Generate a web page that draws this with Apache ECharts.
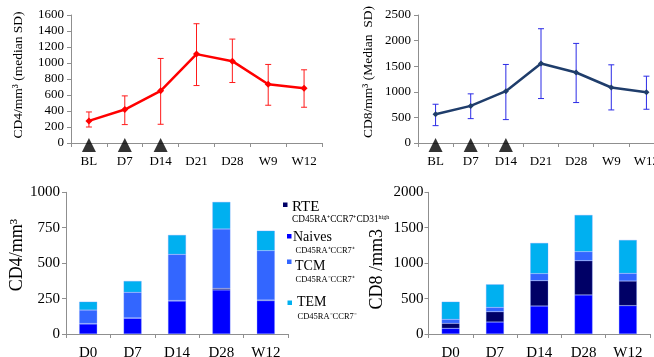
<!DOCTYPE html>
<html>
<head>
<meta charset="utf-8">
<script src="https://cdn.jsdelivr.net/npm/echarts@6/dist/echarts.min.js"></script>
<style>
html,body{margin:0;padding:0;background:#fff;}
#chart{width:654px;height:357px;}
</style>
</head>
<body>
<div id="chart"></div>
<script>
// ---------- data ----------
const catsTop = ['BL', 'D7', 'D14', 'D21', 'D28', 'W9', 'W12'];
const treatmentDays = ['BL', 'D7', 'D14'];

const cd4Median = [276, 418, 652, 1111, 1023, 735, 685];
const cd4Low    = [200, 230, 234, 718, 756, 472, 447];
const cd4High   = [388, 589, 1057, 1491, 1299, 982, 915];

const cd8Median = [561, 725, 1012, 1553, 1377, 1084, 992];
const cd8Low    = [339, 476, 457, 868, 790, 646, 659];
const cd8High   = [757, 960, 1534, 2232, 1945, 1527, 1305];

const catsBottom = ['D0', 'D7', 'D14', 'D28', 'W12'];
const cd4Naive = [71, 111, 233, 311, 235];
const cd4RTE   = [3, 3, 4, 11, 5];
const cd4TCM   = [95, 180, 325, 419, 348];
const cd4TEM   = [59, 80, 137, 191, 141];

const cd8Naive = [80, 169, 395, 551, 400];
const cd8RTE   = [71, 146, 358, 484, 348];
const cd8TCM   = [56, 61, 99, 127, 108];
const cd8TEM   = [249, 325, 433, 518, 471];

const legendNames = ['RTE', 'Naives', 'TCM', 'TEM'];
const legendSubs = ['CD45RA⁺CCR7⁺CD31', 'CD45RA⁺CCR7⁺', 'CD45RA⁻CCR7⁺', 'CD45RA⁻CCR7⁻'];

// ---------- styles ----------
const SERIF = '"Liberation Serif", "Times New Roman", serif';
const AX = '#8f8f8f';
const C_RTE = '#000066', C_NAIVE = '#0000ff', C_TCM = '#3366ff', C_TEM = '#00b0f0';

function xAxisCfg(grid, data, fs, margin) {
  return {
    type: 'category', gridIndex: grid, data: data,
    axisLine: {lineStyle: {color: AX, width: 1}},
    axisTick: {show: true, length: 4, lineStyle: {color: AX}},
    axisLabel: {color: '#000', fontFamily: SERIF, fontSize: fs, fontWeight: 'normal', margin: margin,
                interval: 0, hideOverlap: false},
    splitLine: {show: false}
  };
}
function yAxisCfg(grid, max, interval, name, nfs, gap, fs, margin, pad) {
  return {
    type: 'value', gridIndex: grid, min: 0, max: max, interval: interval,
    name: name, nameLocation: 'middle', nameGap: gap,
    nameTextStyle: {color: '#000', fontFamily: SERIF, fontSize: nfs, padding: pad || 0},
    axisLine: {show: true, lineStyle: {color: AX, width: 1}},
    axisTick: {show: true, length: 4, lineStyle: {color: AX}},
    axisLabel: {color: '#000', fontFamily: SERIF, fontSize: fs, fontWeight: 'normal', margin: margin,
                formatter: v => String(v)},
    splitLine: {show: false}
  };
}
function errorSeries(xi, low, high, color, cap) {
  return {
    type: 'custom', xAxisIndex: xi, yAxisIndex: xi, z: 2,
    data: low.map((l, i) => [i, l, high[i]]),
    renderItem: function (params, api) {
      const lo = api.coord([api.value(0), api.value(1)]);
      const hi = api.coord([api.value(0), api.value(2)]);
      const st = {stroke: color, lineWidth: 1};
      return {
        type: 'group',
        children: [
          {type: 'line', shape: {x1: lo[0], y1: lo[1], x2: hi[0], y2: hi[1]}, style: st},
          {type: 'line', shape: {x1: lo[0] - cap, y1: lo[1], x2: lo[0] + cap, y2: lo[1]}, style: st},
          {type: 'line', shape: {x1: hi[0] - cap, y1: hi[1], x2: hi[0] + cap, y2: hi[1]}, style: st}
        ]
      };
    }
  };
}
function triSeries(xi) {
  return {
    type: 'scatter', xAxisIndex: xi, yAxisIndex: xi, z: 10, clip: false,
    symbol: 'triangle', symbolSize: [14, 14], symbolOffset: [0, 2],
    itemStyle: {color: '#000'},
    data: treatmentDays.map(d => [d, 0])
  };
}
function barSeries(xi, name, data, color, stack) {
  return {
    type: 'bar', name: name, xAxisIndex: xi, yAxisIndex: xi, stack: stack,
    barWidth: 18, data: data,
    itemStyle: {color: color, borderColor: 'rgba(120,150,255,0.6)', borderWidth: 0.5}
  };
}

const graphics = [];
const legendColors = [C_RTE, C_NAIVE, C_TCM, C_TEM];
const legRect = [[283, 202.5], [287, 234], [287, 259.5], [287.5, 300.5]];
const legText = [[292, 206.7, 15], [293, 237.3, 14], [295, 266, 14], [297, 302.7, 14]];
const subPos = [[292, 219.5, 9.3], [295.5, 251, 8.5], [295.5, 280, 8.5], [297.5, 317, 8.5]];
for (let i = 0; i < 4; i++) {
  graphics.push({type: 'rect', shape: {x: legRect[i][0], y: legRect[i][1], width: 4.5, height: 4.5},
    style: {fill: legendColors[i]}});
  graphics.push({type: 'text', x: legText[i][0], y: legText[i][1],
    style: {text: legendNames[i], fill: '#000', font: legText[i][2] + 'px ' + SERIF, verticalAlign: 'middle'}});
  const subText = i === 0 ? '{a|' + legendSubs[i] + '}{b|high}' : '{a|' + legendSubs[i] + '}';
  graphics.push({type: 'text', x: subPos[i][0], y: subPos[i][1],
    style: {text: subText, fill: '#000', verticalAlign: 'middle',
      rich: {a: {fontFamily: SERIF, fontSize: subPos[i][2], fill: '#000'},
             b: {fontFamily: SERIF, fontSize: 6, fill: '#000', verticalAlign: 'top', padding: [0, 0, 5, 0]}}}});
}

const chart = echarts.init(document.getElementById('chart'), null, {renderer: 'canvas'});
chart.setOption({
  animation: false,
  backgroundColor: '#fff',
  textStyle: {fontFamily: SERIF},
  grid: [
    {left: 71, top: 15, width: 251, height: 128, outerBoundsMode: 'none', containLabel: false},
    {left: 418, top: 15, width: 246, height: 128, outerBoundsMode: 'none', containLabel: false},
    {left: 66, top: 192.3, width: 222, height: 141.7, outerBoundsMode: 'none', containLabel: false},
    {left: 428.5, top: 192.3, width: 221.5, height: 141.7, outerBoundsMode: 'none', containLabel: false}
  ],
  xAxis: [
    xAxisCfg(0, catsTop, 13, 12),
    xAxisCfg(1, catsTop, 13, 12),
    xAxisCfg(2, catsBottom, 15, 12),
    xAxisCfg(3, catsBottom, 15, 12)
  ],
  yAxis: [
    yAxisCfg(0, 1600, 200, 'CD4/mm³ (median SD)', 13.5, 46, 13, 7, [0, 0, 0, 8]),
    yAxisCfg(1, 2500, 500, 'CD8/mm³ (Median  SD)', 13.5, 43, 13, 7, [0, 0, 0, 14]),
    yAxisCfg(2, 1000, 250, 'CD4/mm³', 18, 40, 15, 6, [0, 0, 0, 16]),
    yAxisCfg(3, 2000, 500, 'CD8 /mm3', 18, 42, 15, 5, [0, 12, 0, 0])
  ],
  graphic: graphics,
  series: [
    errorSeries(0, cd4Low, cd4High, '#ff1a1a', 3),
    {type: 'line', xAxisIndex: 0, yAxisIndex: 0, data: cd4Median, z: 3,
     symbol: 'diamond', symbolSize: 7, lineStyle: {color: '#ff0000', width: 2.5},
     itemStyle: {color: '#ff0000'}},
    triSeries(0),
    errorSeries(1, cd8Low, cd8High, '#2b2be6', 3),
    {type: 'line', xAxisIndex: 1, yAxisIndex: 1, data: cd8Median, z: 3,
     symbol: 'diamond', symbolSize: 6, lineStyle: {color: '#1f3d6b', width: 2.5},
     itemStyle: {color: '#1f3d6b'}},
    triSeries(1),
    barSeries(2, 'Naives', cd4Naive, C_NAIVE, 'cd4'),
    barSeries(2, 'RTE', cd4RTE, C_RTE, 'cd4'),
    barSeries(2, 'TCM', cd4TCM, C_TCM, 'cd4'),
    barSeries(2, 'TEM', cd4TEM, C_TEM, 'cd4'),
    barSeries(3, 'Naives', cd8Naive, C_NAIVE, 'cd8'),
    barSeries(3, 'RTE', cd8RTE, C_RTE, 'cd8'),
    barSeries(3, 'TCM', cd8TCM, C_TCM, 'cd8'),
    barSeries(3, 'TEM', cd8TEM, C_TEM, 'cd8')
  ]
});
</script>
</body>
</html>
